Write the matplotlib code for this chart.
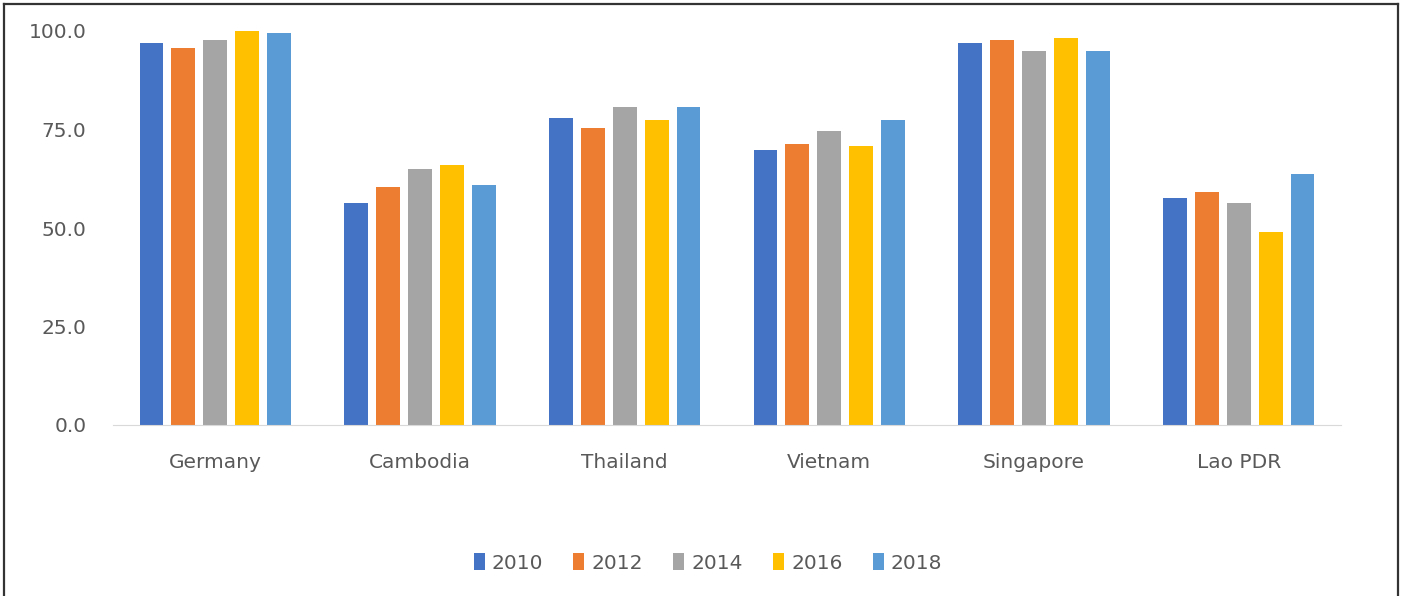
import numpy as np
from matplotlib import pyplot as plt
from matplotlib.lines import Line2D

countries = ["Germany", "Cambodia", "Thailand", "Vietnam", "Singapore", "Lao PDR"]
years = ["2010", "2012", "2014", "2016", "2018"]

# one list per year, values in country order
v2010 = [97.0, 56.4, 78.0, 69.9, 97.0, 57.7]
v2012 = [95.6, 60.5, 75.3, 71.3, 97.6, 59.1]
v2014 = [97.6, 65.1, 80.8, 74.6, 94.9, 56.4]
v2016 = [100.0, 65.9, 77.4, 70.7, 98.3, 49.0]
v2018 = [99.5, 61.0, 80.8, 77.4, 94.9, 63.8]
series = [v2010, v2012, v2014, v2016, v2018]
colors = ["#4472C4", "#ED7D31", "#A5A5A5", "#FFC000", "#5B9BD5"]

fig = plt.figure(figsize=(14.02, 5.96), dpi=100)
ax = fig.add_axes([113 / 1402, 1 - 425 / 596, 1228 / 1402, 394 / 596])

x = np.arange(len(countries))
slot = 0.156
for i in range(len(years)):
    ax.bar(x + (i - 2) * slot, series[i], width=0.117, color=colors[i], label=years[i])

ax.set_xlim(-0.5, len(countries) - 0.5)
ax.set_ylim(0, 100)
ax.set_yticks([0, 25, 50, 75, 100])
ax.set_yticklabels(["%.1f" % t for t in [0, 25, 50, 75, 100]])
ax.set_xticks(x)
ax.set_xticklabels(countries)
ax.tick_params(axis="y", length=0, pad=19, labelsize=14.5, labelcolor="#595959")
ax.tick_params(axis="x", length=0, pad=20, labelsize=14.5, labelcolor="#595959")
for s in ["top", "right", "left"]:
    ax.spines[s].set_visible(False)
ax.spines["bottom"].set_color("#D9D9D9")

leg = fig.legend(loc="center", bbox_to_anchor=(708 / 1402, 1 - 563 / 596), ncol=5,
                 frameon=False, fontsize=14.5, handlelength=0.55, handleheight=0.9,
                 handletextpad=0.35, columnspacing=1.5)
for t in leg.get_texts():
    t.set_color("#595959")

# frame round the picture
fig.add_artist(Line2D([4 / 1402, 4 / 1402], [0, 1 - 4 / 596], color="#333333", lw=1.6))
fig.add_artist(Line2D([4 / 1402, 1398 / 1402], [1 - 4 / 596, 1 - 4 / 596], color="#333333", lw=1.6))
fig.add_artist(Line2D([1398 / 1402, 1398 / 1402], [0, 1 - 4 / 596], color="#333333", lw=1.6))

fig.savefig("out.png", dpi=100)
